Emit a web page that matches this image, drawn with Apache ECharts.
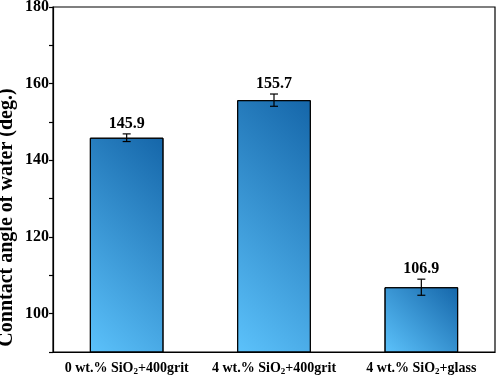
<!DOCTYPE html>
<html>
<head>
    <meta charset="utf-8">
    <title>Contact angle</title>
    <script src="https://cdn.jsdelivr.net/npm/echarts@6/dist/echarts.min.js"></script>
</head>
<body style="margin:0">
    <div id="main" style="width:498px;height:379px;"></div>
    <script type="text/javascript">
        // data
        var categories = ['0 wt.% SiO{s|2}+400grit', '4 wt.% SiO{s|2}+400grit', '4 wt.% SiO{s|2}+glass'];
        var angles = [145.9, 155.7, 106.9];
        var errors = [1.0, 1.6, 2.1];
        var yTicks = [100, 120, 140, 160, 180];
        var yMin = 90, yMax = 180;

        var font = '"Liberation Serif", "Times New Roman", serif';
        var myChart = echarts.init(document.getElementById('main'));

        option = {
            animation: false,
            grid: {left: 53, right: 3, top: 7, bottom: 27, outerBoundsMode: 'none', containLabel: false,
                   show: true, borderColor: '#000', borderWidth: 1.2},
            xAxis: [{
                type: 'category',
                data: categories,
                axisLine: {lineStyle: {color: '#000', width: 1.2}},
                axisTick: {alignWithLabel: true, length: 5, lineStyle: {color: '#000', width: 1.2}},
                axisLabel: {
                    interval: 0,
                    color: '#000', fontFamily: font, fontWeight: 'bold', fontSize: 14, margin: 8,
                    rich: {s: {fontFamily: font, fontWeight: 'bold', fontSize: 9, color: '#000', padding: [7, 0, 0, 0]}}
                }
            }, {
                type: 'category',
                data: categories,
                position: 'bottom',
                axisLine: {show: false},
                axisTick: {length: 3, lineStyle: {color: '#000', width: 1.2}},
                axisLabel: {show: false}
            }],
            yAxis: {
                type: 'value',
                min: yMin,
                max: yMax,
                interval: 10,
                name: 'Conntact angle of water (deg.)',
                nameLocation: 'middle',
                nameGap: 36,
                nameMoveOverlap: false,
                nameTextStyle: {color: '#000', fontFamily: font, fontWeight: 'bold', fontSize: 20, padding: [0, 76, 0, 0]},
                axisLine: {show: true, lineStyle: {color: '#000', width: 1.2}},
                axisTick: {show: true, length: 4, lineStyle: {color: '#000', width: 1.2}},
                splitLine: {show: false},
                axisLabel: {
                    color: '#000', fontFamily: font, fontWeight: 'bold', fontSize: 16, margin: 4,
                    formatter: function (v) { return yTicks.indexOf(v) >= 0 ? String(v) : ''; }
                }
            },
            series: [{
                id: 'bars',
                type: 'bar',
                data: angles,
                barWidth: '50%',
                itemStyle: {color: '#3a9be0', borderColor: '#000', borderWidth: 1}
            }, {
                type: 'custom',
                data: angles.map(function (v, i) { return [i, v, errors[i]]; }),
                z: 5,
                renderItem: function (params, api) {
                    var x = api.coord([api.value(0), api.value(1)])[0];
                    var hi = api.coord([api.value(0), api.value(1) + api.value(2)])[1];
                    var lo = api.coord([api.value(0), api.value(1) - api.value(2)])[1];
                    var style = {stroke: '#000', lineWidth: 1.2};
                    return {
                        type: 'group',
                        children: [
                            {type: 'line', shape: {x1: x, y1: hi, x2: x, y2: lo}, style: style},
                            {type: 'line', shape: {x1: x - 4, y1: hi, x2: x + 4, y2: hi}, style: style},
                            {type: 'line', shape: {x1: x - 4, y1: lo, x2: x + 4, y2: lo}, style: style},
                            {type: 'text', x: x, y: hi - 2, style: {
                                text: api.value(1).toFixed(1), fill: '#000', align: 'center', verticalAlign: 'bottom',
                                font: 'bold 16px ' + font
                            }}
                        ]
                    };
                }
            }]
        };

        myChart.setOption(option);

        // per-bar diagonal (45 deg in pixels) gradient, light bottom-left to dark top-right
        var x0 = myChart.convertToPixel({xAxisIndex: 0}, 0);
        var x1 = myChart.convertToPixel({xAxisIndex: 0}, 1);
        var w = (x1 - x0) * 0.5;
        var base = myChart.convertToPixel({yAxisIndex: 0}, yMin);
        myChart.setOption({
            series: [{
                id: 'bars',
                data: angles.map(function (v) {
                    var h = base - myChart.convertToPixel({yAxisIndex: 0}, v);
                    var ex = (w + h) / (2 * w), ey = 1 - (w + h) / (2 * h);
                    return {
                        value: v,
                        itemStyle: {color: new echarts.graphic.LinearGradient(0, 1, ex, ey, [
                            {offset: 0, color: '#5cc2fb'},
                            {offset: 1, color: '#1566a9'}
                        ])}
                    };
                })
            }]
        });
    </script>
</body>
</html>
